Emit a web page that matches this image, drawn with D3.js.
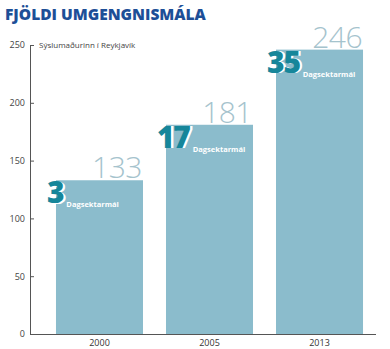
<!DOCTYPE html>
<html>
<head>
<meta charset="utf-8">
<script src="https://cdn.jsdelivr.net/npm/d3@7"></script>
<style>
  html, body { margin: 0; padding: 0; background: #fff; }
  svg { display: block; }
</style>
</head>
<body>
<svg id="chart" width="390" height="349"></svg>
<script>
// Umgengnismál per year, with the number of daily-fine cases inside each bar
const years = ["2000", "2005", "2013"];
const cases = [133, 181, 246];
const fineCases = [3, 17, 35];
const yTicks = [0, 50, 100, 150, 200, 250];

const title = "FJÖLDI UMGENGNISMÁLA";
const subtitle = "Sýslumaðurinn í Reykjavík";
const fineLabel = "Dagsektarmál";

const svg = d3.select("#chart");
const axisX = 30, axisRightEnd = 376, plotTop = 45, plotBottom = 334;

const x = d3.scaleBand().domain(years).range([43, axisRightEnd])
  .paddingInner(0.209).paddingOuter(0.118);
const y = d3.scaleLinear().domain([0, 250]).range([plotBottom, plotTop]);

// title + source
svg.append("text")
  .attr("x", 5).attr("y", 20)
  .attr("font-family", "Open Sans").attr("font-weight", 800)
  .attr("font-size", 15.5).attr("fill", "#1d4f97")
  .text(title);

svg.append("text")
  .attr("x", 39).attr("y", 48)
  .attr("font-family", "Open Sans").attr("font-size", 8)
  .attr("fill", "#444")
  .text(subtitle);

// bars
const data = years.map((yr, i) => ({ yr, v: cases[i], f: fineCases[i] }));

svg.append("g").selectAll("rect").data(data).join("rect")
  .attr("x", d => x(d.yr)).attr("width", x.bandwidth())
  .attr("y", d => y(d.v)).attr("height", d => y(0) - y(d.v))
  .attr("fill", "#8bbccc");

// total value above each bar, right-aligned to its edge
svg.append("g").selectAll("text").data(data).join("text")
  .attr("x", d => x(d.yr) + x.bandwidth() - 1)
  .attr("y", d => y(d.v) - 2)
  .attr("text-anchor", "end")
  .attr("font-family", "Open Sans").attr("font-weight", 300)
  .attr("font-size", 30).attr("letter-spacing", -0.5)
  .attr("fill", "#a5c3cd")
  .text(d => d.v);

// daily-fine counts: heavy number with a white offset shadow
const fines = svg.append("g").selectAll("g").data(data).join("g")
  .attr("transform", d => `translate(${x(d.yr) - 9},${y(d.v) + 23})`);

fines.append("text")
  .attr("x", 2.4).attr("y", 0.6)
  .attr("font-family", "Open Sans").attr("font-weight", 800)
  .attr("font-size", 30).attr("fill", "#ffffff")
  .attr("letter-spacing", -1.2)
  .text(d => d.f);

fines.append("text")
  .attr("class", "num")
  .attr("font-family", "Open Sans").attr("font-weight", 800)
  .attr("font-size", 30).attr("fill", "#16869a")
  .attr("letter-spacing", -1.2)
  .text(d => d.f);

fines.each(function () {
  const g = d3.select(this);
  const w = g.select(".num").node().getComputedTextLength();
  g.append("text")
    .attr("x", w + 3).attr("y", 4)
    .attr("font-family", "Open Sans").attr("font-weight", 700)
    .attr("font-size", 7.5).attr("fill", "#ffffff")
    .text(fineLabel);
});

// y axis with inward ticks
const yAxis = d3.axisLeft(y).tickValues(yTicks)
  .tickSizeInner(-4).tickSizeOuter(-4).tickPadding(5);
const gy = svg.append("g").attr("transform", `translate(${axisX},0)`).call(yAxis);
gy.select(".domain").attr("stroke", "#555");
gy.selectAll(".tick line").attr("stroke", "#555");
gy.selectAll(".tick text")
  .attr("font-family", "Open Sans").attr("font-size", 9).attr("fill", "#444");

// x axis
const xAxis = d3.axisBottom(x).tickSize(0).tickPadding(6);
const gx = svg.append("g").attr("transform", `translate(0,${plotBottom})`).call(xAxis);
gx.select(".domain").remove();
gx.selectAll(".tick text")
  .attr("font-family", "Open Sans").attr("font-size", 9).attr("fill", "#333");
svg.append("line")
  .attr("x1", axisX).attr("x2", axisRightEnd)
  .attr("y1", plotBottom + 0.5).attr("y2", plotBottom + 0.5)
  .attr("stroke", "#555");
</script>
</body>
</html>
